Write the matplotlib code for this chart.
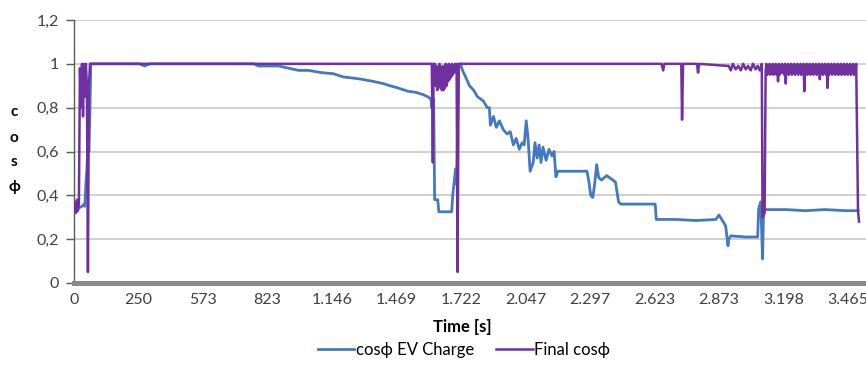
import numpy as np
import matplotlib
matplotlib.use('Agg')
import matplotlib.pyplot as plt

plt.rcParams['font.family'] = ['Lato', 'DejaVu Sans']

## category axis: sample index, labels are the logged times
tick_idx = [0, 250, 500, 750, 1000, 1250, 1500, 1750, 2000, 2250, 2500, 2750, 3000]
tick_labels = ['0', '250', '573', '823', '1.146', '1.469', '1.722', '2.047',
               '2.297', '2.623', '2.873', '3.198', '3.465']

## cos phi of the EV charge
ev_idx = [0, 15, 31, 39, 42, 46, 50, 54, 58, 62, 65, 254, 273, 293, 697, 716,
          794, 832, 871, 909, 959, 1005, 1044, 1082, 1113, 1159, 1198, 1225,
          1256, 1294, 1325, 1352, 1371, 1383, 1387, 1391, 1394, 1398, 1410, 1414,
          1464, 1468, 1479, 1483, 1491, 1498, 1506, 1518, 1533, 1549, 1564, 1587,
          1602, 1610, 1614, 1626, 1637, 1649, 1664, 1679, 1691, 1703, 1714, 1726,
          1737, 1745, 1753, 1760, 1768, 1780, 1787, 1795, 1803, 1810, 1818, 1830,
          1841, 1853, 1861, 1868, 1876, 1911, 1949, 1988, 1995, 2003, 2011, 2018,
          2026, 2034, 2045, 2065, 2088, 2099, 2107, 2111, 2119, 2180, 2253, 2257,
          2334, 2411, 2488, 2500, 2511, 2526, 2535, 2538, 2546, 2604, 2650, 2654,
          2662, 2669, 2673, 2758, 2835, 2912, 2989, 3039]
ev_cos = [0.35, 0.34, 0.35, 0.36, 0.35, 0.45, 0.52, 0.63, 0.60, 0.80, 1.0, 1.0, 0.99, 1.0, 1.0, 0.99,
          0.99, 0.98, 0.97, 0.97, 0.96, 0.955, 0.94, 0.935, 0.93, 0.92, 0.91, 0.90,
          0.89, 0.875, 0.87, 0.86, 0.85, 0.84, 0.80, 0.84, 0.84, 0.38, 0.38, 0.325,
          0.325, 0.40, 0.52, 0.45, 0.98, 1.0, 0.97, 0.94, 0.90, 0.88, 0.85, 0.83,
          0.80, 0.80, 0.72, 0.76, 0.71, 0.74, 0.70, 0.68, 0.69, 0.63, 0.66, 0.61,
          0.64, 0.63, 0.74, 0.66, 0.51, 0.55, 0.64, 0.57, 0.63, 0.55, 0.62, 0.56,
          0.61, 0.58, 0.60, 0.485, 0.51, 0.51, 0.51, 0.51, 0.47, 0.40, 0.39, 0.45,
          0.54, 0.48, 0.47, 0.49, 0.47, 0.46, 0.40, 0.37, 0.36, 0.36, 0.36, 0.29,
          0.29, 0.285, 0.29, 0.31, 0.29, 0.26, 0.17, 0.20, 0.215, 0.21, 0.21, 0.34,
          0.37, 0.11, 0.335, 0.335, 0.33, 0.335, 0.33, 0.33]

## final cos phi, start-up
start_idx = [0, 4, 8, 12, 15, 19, 23, 27, 31, 35, 39, 42, 46, 50, 54, 58, 62, 1387, 1391, 1394]
start_cos = [0.34, 0.37, 0.32, 0.38, 0.33, 0.36, 0.98, 0.80, 1.0, 0.76, 1.0, 0.85, 1.0, 0.90,
             0.05, 0.90, 1.0, 1.0, 0.55, 1.0]
## first disconnection block, every 3 samples from 1396
block_cos = [0.93, 1.0, 0.90, 0.99, 0.88, 0.98, 0.90, 1.0, 0.89, 0.97, 0.88, 0.99,
             0.88, 0.98, 0.89, 1.0, 0.90, 0.99, 0.92, 1.0, 0.93, 0.99, 0.94, 1.0,
             0.95, 0.99, 0.96, 1.0, 0.97, 1.0]
mid_idx = [1487, 1491, 2277, 2284, 2288, 2354, 2357, 2361, 2415, 2419, 2423, 2538, 2546,
           2554, 2565, 2575, 2585, 2594, 2604, 2613, 2623, 2632, 2642, 2650, 2658, 2666,
           2669, 2677]
mid_cos = [0.05, 1.0, 1.0, 0.97, 1.0, 1.0, 0.745, 1.0, 1.0, 0.96, 1.0, 0.99, 0.97,
           1.0, 0.975, 0.99, 0.97, 1.0, 0.975, 0.99, 0.97, 1.0, 0.975, 0.99, 0.97, 1.0,
           0.30, 0.32]
## noisy band after the second reconnection, every 3 samples from 2681
band_cos = [0.97, 1.0, 0.95, 0.99, 0.96, 1.0, 0.95, 0.99, 0.96, 1.0, 0.95, 0.99,
            0.96, 1.0, 0.95, 0.99, 0.92, 1.0, 0.95, 0.99, 0.96, 1.0, 0.96, 0.99,
            0.95, 1.0, 0.91, 0.99, 0.96, 1.0, 0.95, 0.99, 0.96, 1.0, 0.95, 0.99,
            0.96, 1.0, 0.95, 0.99, 0.96, 1.0, 0.95, 0.99, 0.96, 1.0, 0.95, 0.99,
            0.96, 1.0, 0.875, 0.99, 0.96, 1.0, 0.95, 0.99, 0.96, 1.0, 0.95, 0.99,
            0.96, 1.0, 0.95, 0.99, 0.96, 1.0, 0.95, 0.99, 0.96, 1.0, 0.93, 0.99,
            0.96, 1.0, 0.95, 0.99, 0.96, 1.0, 0.95, 0.99, 0.89, 1.0, 0.95, 0.99,
            0.96, 1.0, 0.95, 0.99, 0.96, 1.0, 0.95, 0.99, 0.96, 1.0, 0.95, 0.99,
            0.96, 1.0, 0.95, 0.99, 0.96, 1.0, 0.95, 0.99, 0.96, 1.0, 0.95, 0.99,
            0.96, 1.0, 0.95, 0.99, 0.96, 1.0, 0.95, 0.99, 0.96, 1.0]
tail_idx = [3039, 3043]
tail_cos = [0.33, 0.28]

block_idx = 1396 + 3*np.arange(len(block_cos))
band_idx = 2681 + 3*np.arange(len(band_cos))
fin_x = np.concatenate([start_idx, block_idx, mid_idx, band_idx, tail_idx])
fin_y = np.concatenate([start_cos, block_cos, mid_cos, band_cos, tail_cos])

BLUE = '#4479BF'
PURPLE = '#7030A0'

fig = plt.figure(figsize=(8.66, 3.65), dpi=100)
ax = fig.add_axes([74/866, 1-283/365, 1-74/866, 263/365])

ax.plot(ev_idx, ev_cos, color=BLUE, lw=2.0, label='cosϕ EV Charge', zorder=3)
ax.plot(fin_x, fin_y, color=PURPLE, lw=1.8, label='Final cosϕ', zorder=4)

ax.set_xlim(0, 3070)
ax.set_ylim(0, 1.2)
ax.set_yticks(np.arange(0, 1.21, 0.2))
ax.set_yticklabels(['0', '0,2', '0,4', '0,6', '0,8', '1', '1,2'])
ax.set_xticks(tick_idx)
ax.set_xticklabels(tick_labels)
ax.tick_params(axis='both', labelsize=11.5, colors='#404040')
ax.tick_params(axis='x', length=0, pad=7)
ax.tick_params(axis='y', length=6, width=1, color='#595959', pad=5)
ax.grid(axis='y', color='#c4c4c4', lw=1.1)
ax.set_axisbelow(True)
for s in ['top', 'right']:
    ax.spines[s].set_visible(False)
ax.spines['left'].set_color('#595959')
ax.spines['left'].set_linewidth(1)
ax.spines['bottom'].set_color('#8a8a8a')
ax.spines['bottom'].set_linewidth(3.6)
ax.spines['bottom'].set_zorder(5)

fig.text(14/866, 1-150/365, 'c\no\ns\nϕ', ha='center', va='center', fontsize=11,
         fontweight='bold', linespacing=2.0)
fig.text(462/866, 1-327/365, 'Time [s]', ha='center', va='center', fontsize=12,
         fontweight='bold')
fig.legend(loc='center', bbox_to_anchor=(464/866, 1-350/365), ncol=2, frameon=False,
           fontsize=12, handlelength=2.2, handletextpad=0.1, columnspacing=1.3)

fig.savefig('out.png', dpi=100)
